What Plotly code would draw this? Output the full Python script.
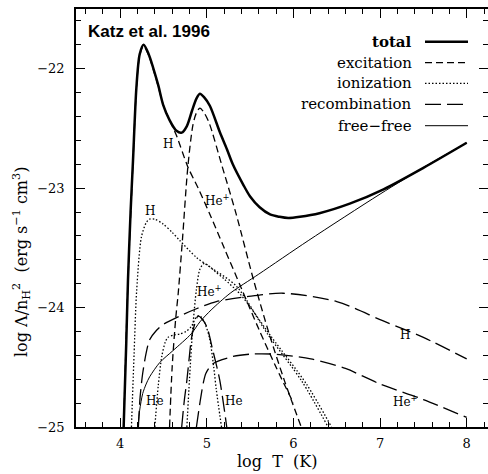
import plotly.graph_objects as go

# ---------------- data ----------------
total_T = [4.04, 4.07, 4.09, 4.12, 4.148, 4.187, 4.225, 4.27, 4.33, 4.38, 4.44, 4.495, 4.57, 4.65, 4.71,
           4.77, 4.83, 4.88, 4.92, 4.97, 5.035, 5.15, 5.23, 5.30, 5.42, 5.50, 5.61, 5.73, 5.84, 5.94,
           6.075, 6.3, 6.65, 7.04, 7.5, 8.0]
total = [-25.0, -24.3, -23.77, -23.2, -22.77, -22.16, -21.88, -21.80, -21.88, -21.99, -22.14, -22.30, -22.43,
         -22.52, -22.535, -22.48, -22.35, -22.25, -22.21, -22.24, -22.31, -22.53, -22.67, -22.80, -22.97,
         -23.07, -23.16, -23.22, -23.24, -23.25, -23.24, -23.21, -23.13, -23.01, -22.83, -22.62]

exc_H_T = [4.04, 4.09, 4.148, 4.187, 4.225, 4.27, 4.33, 4.38, 4.44, 4.50, 4.57, 4.65, 4.78, 4.90,
           5.03, 5.20, 5.40, 5.60, 5.80, 6.00]
exc_H = [-25.0, -23.78, -22.78, -22.17, -21.89, -21.81, -21.89, -22.00, -22.15, -22.31, -22.43, -22.56,
         -22.82, -23.0, -23.21, -23.50, -23.84, -24.18, -24.50, -24.80]

exc_Hep_T = [4.57, 4.60, 4.64, 4.67, 4.72, 4.78, 4.84, 4.88, 4.92, 4.97, 5.03, 5.17, 5.34, 5.54, 5.72,
             5.90, 6.09]
exc_Hep = [-25.0, -24.5, -24.1, -23.88, -23.42, -22.83, -22.47, -22.37, -22.33, -22.37, -22.46, -22.80,
           -23.22, -23.77, -24.22, -24.62, -25.0]

ion_H_T = [4.13, 4.16, 4.19, 4.245, 4.30, 4.34, 4.40, 4.495, 4.60, 4.69, 4.88, 5.035, 5.34, 5.70, 6.10, 6.40]
ion_H = [-25.0, -24.4, -23.86, -23.41, -23.29, -23.26, -23.26, -23.30, -23.37, -23.44, -23.58, -23.66,
         -23.82, -24.22, -24.62, -25.0]

ion_Hep_T = [4.77, 4.80, 4.84, 4.88, 4.92, 4.97, 5.02, 5.10, 5.20, 5.40, 5.75, 6.15, 6.44]
ion_Hep = [-25.0, -24.6, -24.15, -23.85, -23.68, -23.63, -23.65, -23.70, -23.76, -23.9, -24.25, -24.64, -25.0]

ion_He_T = [4.40, 4.44, 4.48, 4.52, 4.55, 4.62, 4.69, 4.76, 4.82, 4.88, 4.92, 4.97, 5.03, 5.08, 5.11, 5.17]
ion_He = [-25.0, -24.65, -24.41, -24.29, -24.25, -24.23, -24.22, -24.2, -24.16, -24.08, -24.07, -24.12,
          -24.25, -24.5, -24.69, -25.0]

rec_H_T = [4.21, 4.23, 4.26, 4.30, 4.34, 4.42, 4.50, 4.69, 4.88, 5.11, 5.45, 5.88, 6.5, 7.03, 7.5, 8.0]
rec_H = [-25.0, -24.75, -24.55, -24.38, -24.27, -24.19, -24.14, -24.07, -24.01, -23.95, -23.91, -23.88,
         -23.95, -24.11, -24.25, -24.43]

rec_Hep_T = [4.88, 4.92, 4.96, 4.99, 5.07, 5.30, 5.50, 5.77, 6.2, 6.6, 7.0, 7.5, 8.0]
rec_Hep = [-25.0, -24.80, -24.63, -24.55, -24.47, -24.41, -24.39, -24.39, -24.43, -24.51, -24.64, -24.77, -24.92]

rec_He_T = [4.71, 4.74, 4.77, 4.80, 4.82, 4.86, 4.90, 4.95, 5.00, 5.07, 5.15, 5.23]
rec_He = [-25.0, -24.78, -24.61, -24.40, -24.27, -24.14, -24.07, -24.10, -24.16, -24.36, -24.61, -25.0]

ff_T = [4.206, 4.225, 4.26, 4.30, 4.34, 4.457, 4.61, 4.82, 4.92, 5.05, 5.27, 5.6, 6.17, 7.0, 7.54, 8.0]
ff = [-25.0, -24.86, -24.72, -24.64, -24.58, -24.46, -24.36, -24.22, -24.12, -24.02, -23.88, -23.72,
      -23.44, -23.05, -22.81, -22.62]

x_ticks = [4, 5, 6, 7, 8]
y_ticks = [-25, -24, -23, -22]

legend_names = ["total", "excitation", "ionization", "recombination", "free\u2212free"]

curve_labels = ["H", "He<sup>+</sup>", "H", "He<sup>+</sup>", "He", "He", "H", "He<sup>+</sup>"]
curve_label_T = [4.553, 5.127, 4.341, 5.035, 4.399, 5.31, 7.289, 7.29]
curve_label_y = [-22.63, -23.10, -23.19, -23.86, -24.78, -24.78, -24.23, -24.78]

# ---------------- styles ----------------
SERIF = "DejaVu Serif"
STY = {
    "total": dict(width=2.5, dash="solid"),
    "excitation": dict(width=1.3, dash="7px,4px"),
    "ionization": dict(width=1.3, dash="1.5px,2px"),
    "recombination": dict(width=1.3, dash="16px,6px"),
    "free\u2212free": dict(width=1.0, dash="solid"),
}

fig = go.Figure()


def add(x, y, kind):
    s = STY[kind]
    fig.add_trace(go.Scatter(x=x, y=y, mode="lines",
                             line=dict(color="black", width=s["width"], dash=s["dash"],
                                       shape="spline", smoothing=0.8),
                             showlegend=False, hoverinfo="skip"))


add(exc_H_T, exc_H, "excitation")
add(exc_Hep_T, exc_Hep, "excitation")
add(ion_H_T, ion_H, "ionization")
add(ion_Hep_T, ion_Hep, "ionization")
add(ion_He_T, ion_He, "ionization")
add(rec_H_T, rec_H, "recombination")
add(rec_Hep_T, rec_Hep, "recombination")
add(rec_He_T, rec_He, "recombination")
add(ff_T, ff, "free\u2212free")
add(total_T, total, "total")

# plot-area geometry in pixels (for paper-coordinate decorations)
W, H = 488, 474
ML, MR, MT, MB = 76, 0, 9, 47
PW, PH = W - ML - MR, H - MT - MB


def px(xp):
    return (xp - ML) / PW


def py(yp):
    return (H - MB - yp) / PH


annotations = []
# curve labels
for t, xv, yv in zip(curve_labels, curve_label_T, curve_label_y):
    annotations.append(dict(x=xv, y=yv, xref="x", yref="y", text=t, showarrow=False,
                            font=dict(family=SERIF, size=12, color="black")))

# legend (text right aligned, sample to the right)
rows_y = [41.7, 62.7, 83.3, 104.3, 125.7]
shapes = []
for name, ry in zip(legend_names, rows_y):
    txt = "<b>%s</b>" % name if name == "total" else name
    annotations.append(dict(x=px(414), y=py(ry), xref="paper", yref="paper", text=txt,
                            showarrow=False, xanchor="right", yanchor="middle",
                            font=dict(family=SERIF, size=15, color="black")))
    s = STY[name]
    shapes.append(dict(type="line", xref="paper", yref="paper", x0=px(425), x1=px(468),
                       y0=py(ry), y1=py(ry), line=dict(color="black", width=s["width"], dash=s["dash"])))

annotations.append(dict(x=px(86), y=py(31), xref="paper", yref="paper", text="<b>Katz et al. 1996</b>",
                        showarrow=False, xanchor="left", yanchor="middle",
                        font=dict(family="Liberation Sans", size=17, color="black")))

# axis titles
annotations.append(dict(x=px(277), y=py(461), xref="paper", yref="paper", text="log  T  (K)",
                        showarrow=False, xanchor="center", yanchor="middle",
                        font=dict(family=SERIF, size=16, color="black")))
annotations.append(dict(x=px(21), y=py(262), xref="paper", yref="paper",
                        text="log \u039b/n<sub>H</sub><sup>2</sup>  (erg s<sup>\u22121</sup> cm<sup>3</sup>)",
                        showarrow=False, xanchor="center", yanchor="middle", textangle=-90,
                        font=dict(family=SERIF, size=16, color="black")))

axis_common = dict(showline=True, linewidth=1.5, linecolor="black", mirror="ticks",
                   ticks="inside", ticklen=9, tickwidth=1.2, tickcolor="black",
                   showgrid=False, zeroline=False, automargin=False,
                   tickfont=dict(family=SERIF, size=13, color="black"))

fig.update_layout(
    width=W, height=H,
    margin=dict(l=ML, r=MR, t=MT, b=MB, pad=0),
    paper_bgcolor="white", plot_bgcolor="white",
    xaxis=dict(range=[3.49, 8.246], tickvals=x_ticks, ticklabelstandoff=4,
               minor=dict(dtick=0.2, tick0=0, ticks="inside", ticklen=5, tickwidth=1, tickcolor="black"),
               **axis_common),
    yaxis=dict(range=[-25, -21.5], tickvals=y_ticks, ticklabelstandoff=7,
               minor=dict(dtick=0.2, tick0=0, ticks="inside", ticklen=5, tickwidth=1, tickcolor="black"),
               **axis_common),
    annotations=annotations,
    shapes=shapes,
    showlegend=False,
)

fig.write_html("out.html", config={"displayModeBar": False},
               post_script="document.body.style.margin='0';document.body.style.overflow='hidden';")
